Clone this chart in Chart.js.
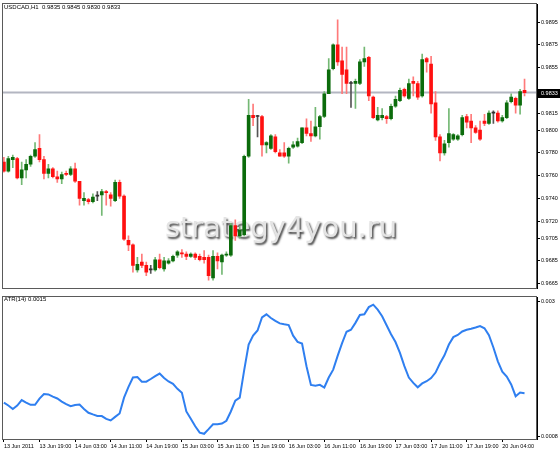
<!DOCTYPE html>
<html lang="en">
<head>
  <meta charset="UTF-8" />
  <title>USDCAD H1</title>
  <script src="https://cdn.jsdelivr.net/npm/chart.js"></script>
  <style>
    body {
      margin: 0;
      background: #ffffff;
    }

    .wrap {
      position: relative;
      width: 560px;
      height: 450px;
    }

    canvas {
      position: absolute;
      left: 0;
    }

    #priceChart { top: 0; }
    #atrChart { top: 293px; }
  </style>
</head>
<body>
  <div class="wrap">
    <canvas id="priceChart" width="560" height="293"></canvas>
    <canvas id="atrChart" width="560" height="157"></canvas>
  </div>

  <script>
    const symbol = 'USDCAD,H1';

    const opens = [
      0.9772, 0.9764, 0.9774, 0.9775, 0.9758, 0.9765, 0.9770, 0.9777, 0.9784, 0.9774,
      0.9762, 0.9766, 0.9759, 0.9757, 0.9762, 0.9761, 0.9766, 0.9755, 0.9738, 0.9739,
      0.9737, 0.9742, 0.9743, 0.9746, 0.9743, 0.9738, 0.9754, 0.9742, 0.9703, 0.9699,
      0.9677, 0.9684, 0.9681, 0.9677, 0.9677, 0.9686, 0.9678, 0.9683, 0.9685, 0.9690,
      0.9692, 0.9691, 0.9689, 0.9691, 0.9689, 0.9688, 0.9688, 0.9670, 0.9689, 0.9684,
      0.9690, 0.9690, 0.9716, 0.9707, 0.9708, 0.9777, 0.9813, 0.9812, 0.9812, 0.9787,
      0.9784, 0.9794, 0.9780, 0.9780, 0.9777, 0.9785, 0.9786, 0.9789, 0.9802, 0.9797,
      0.9795, 0.9803, 0.9812, 0.9832, 0.9854, 0.9875, 0.9861, 0.9853, 0.9841, 0.9841,
      0.9841, 0.9860, 0.9864, 0.9829, 0.9809, 0.9811, 0.9812, 0.9810, 0.9821, 0.9826,
      0.9836, 0.9828, 0.9843, 0.9841, 0.9830, 0.9863, 0.9858, 0.9824, 0.9794, 0.9780,
      0.9789, 0.9792, 0.9792, 0.9796, 0.9812, 0.9808, 0.9802, 0.9800, 0.9808, 0.9806,
      0.9815, 0.9815, 0.9808, 0.9811, 0.9825, 0.9828, 0.9822, 0.9835
    ];

    const highs = [
      0.9776, 0.9777, 0.9778, 0.9776, 0.9772, 0.9774, 0.9778, 0.9789, 0.9796, 0.9777,
      0.9770, 0.9767, 0.9764, 0.9763, 0.9764, 0.9768, 0.9771, 0.9755, 0.9745, 0.9740,
      0.9744, 0.9746, 0.9748, 0.9747, 0.9745, 0.9756, 0.9756, 0.9743, 0.9707, 0.9700,
      0.9688, 0.9691, 0.9684, 0.9681, 0.9688, 0.9691, 0.9688, 0.9687, 0.9690, 0.9694,
      0.9695, 0.9693, 0.9692, 0.9692, 0.9691, 0.9694, 0.9690, 0.9694, 0.9692, 0.9691,
      0.9693, 0.9718, 0.9721, 0.9715, 0.9778, 0.9827, 0.9823, 0.9813, 0.9813, 0.9790,
      0.9796, 0.9796, 0.9783, 0.9789, 0.9785, 0.9790, 0.9793, 0.9802, 0.9810, 0.9808,
      0.9820, 0.9813, 0.9834, 0.9863, 0.9876, 0.9897, 0.9873, 0.9873, 0.9843, 0.9845,
      0.9862, 0.9873, 0.9865, 0.9830, 0.9820, 0.9819, 0.9813, 0.9823, 0.9830, 0.9837,
      0.9837, 0.9845, 0.9847, 0.9843, 0.9867, 0.9864, 0.9865, 0.9834, 0.9796, 0.9791,
      0.9819, 0.9797, 0.9796, 0.9813, 0.9814, 0.9814, 0.9804, 0.9808, 0.9814, 0.9817,
      0.9817, 0.9817, 0.9813, 0.9826, 0.9832, 0.9829, 0.9836, 0.9845
    ];

    const lows = [
      0.9763, 0.9763, 0.9767, 0.9757, 0.9752, 0.9758, 0.9768, 0.9776, 0.9772, 0.9757,
      0.9758, 0.9758, 0.9754, 0.9753, 0.9760, 0.9760, 0.9754, 0.9734, 0.9734, 0.9735,
      0.9736, 0.9738, 0.9725, 0.9734, 0.9733, 0.9737, 0.9740, 0.9703, 0.9694, 0.9675,
      0.9675, 0.9679, 0.9672, 0.9674, 0.9676, 0.9678, 0.9676, 0.9682, 0.9684, 0.9688,
      0.9688, 0.9686, 0.9688, 0.9686, 0.9685, 0.9683, 0.9668, 0.9668, 0.9678, 0.9673,
      0.9689, 0.9689, 0.9703, 0.9705, 0.9707, 0.9776, 0.9804, 0.9794, 0.9777, 0.9780,
      0.9783, 0.9780, 0.9777, 0.9776, 0.9771, 0.9784, 0.9785, 0.9788, 0.9795, 0.9790,
      0.9794, 0.9792, 0.9811, 0.9832, 0.9853, 0.9857, 0.9832, 0.9832, 0.9820, 0.9819,
      0.9840, 0.9856, 0.9826, 0.9810, 0.9808, 0.9809, 0.9806, 0.9809, 0.9820, 0.9825,
      0.9829, 0.9827, 0.9830, 0.9827, 0.9829, 0.9851, 0.9815, 0.9791, 0.9773, 0.9778,
      0.9785, 0.9791, 0.9791, 0.9795, 0.9802, 0.9789, 0.9797, 0.9791, 0.9804, 0.9805,
      0.9806, 0.9807, 0.9807, 0.9810, 0.9824, 0.9815, 0.9814, 0.9830
    ];

    const closes = [
      0.9764, 0.9775, 0.9776, 0.9758, 0.9765, 0.9770, 0.9777, 0.9783, 0.9774, 0.9762,
      0.9766, 0.9759, 0.9757, 0.9761, 0.9761, 0.9766, 0.9755, 0.9740, 0.9740, 0.9737,
      0.9741, 0.9742, 0.9746, 0.9745, 0.9740, 0.9754, 0.9742, 0.9704, 0.9699, 0.9681,
      0.9682, 0.9681, 0.9675, 0.9677, 0.9686, 0.9679, 0.9685, 0.9685, 0.9689, 0.9693,
      0.9691, 0.9689, 0.9691, 0.9688, 0.9686, 0.9686, 0.9672, 0.9689, 0.9685, 0.9690,
      0.9691, 0.9716, 0.9707, 0.9712, 0.9777, 0.9813, 0.9811, 0.9812, 0.9787, 0.9789,
      0.9795, 0.9781, 0.9777, 0.9777, 0.9784, 0.9787, 0.9790, 0.9802, 0.9797, 0.9795,
      0.9803, 0.9812, 0.9832, 0.9853, 0.9875, 0.9860, 0.9849, 0.9841, 0.9841, 0.9843,
      0.9860, 0.9863, 0.9830, 0.9811, 0.9813, 0.9813, 0.9810, 0.9821, 0.9827, 0.9835,
      0.9830, 0.9841, 0.9841, 0.9829, 0.9862, 0.9860, 0.9823, 0.9794, 0.9780, 0.9788,
      0.9797, 0.9796, 0.9795, 0.9811, 0.9807, 0.9802, 0.9798, 0.9792, 0.9806, 0.9815,
      0.9815, 0.9808, 0.9811, 0.9824, 0.9829, 0.9822, 0.9834, 0.9833
    ];

    // ATR(14) per bar
    const atr = [
      0.001346, 0.001298, 0.001241, 0.001298, 0.001386, 0.001346, 0.001309, 0.001309, 0.001410, 0.001486,
      0.001479, 0.001442, 0.001413, 0.001362, 0.001322, 0.001286, 0.001306, 0.001314, 0.001241, 0.001180,
      0.001153, 0.001129, 0.001126, 0.001081, 0.001054, 0.001113, 0.001169, 0.001426, 0.001603, 0.001755,
      0.001763, 0.001688, 0.001688, 0.001731, 0.001779, 0.001820, 0.001747, 0.001691, 0.001651, 0.001571,
      0.001506, 0.001201, 0.001081, 0.000960, 0.000856, 0.000837, 0.000912, 0.000992, 0.000992, 0.001004,
      0.001049, 0.001201, 0.001378, 0.001426, 0.001876, 0.002293, 0.002438, 0.002523, 0.002735, 0.002786,
      0.002727, 0.002679, 0.002639, 0.002623, 0.002610, 0.002438, 0.002337, 0.002309, 0.001940, 0.001635,
      0.001622, 0.001635, 0.001592, 0.001755, 0.001884, 0.002109, 0.002317, 0.002502, 0.002534, 0.002647,
      0.002775, 0.002786, 0.002904, 0.002944, 0.002863, 0.002754, 0.002607, 0.002462, 0.002334, 0.002157,
      0.001940, 0.001755, 0.001667, 0.001595, 0.001659, 0.001694, 0.001747, 0.001836, 0.001988, 0.002117,
      0.002293, 0.002414, 0.002449, 0.002507, 0.002534, 0.002550, 0.002571, 0.002594, 0.002558, 0.002446,
      0.002245, 0.002020, 0.001852, 0.001771, 0.001643, 0.001450, 0.001510, 0.001500
    ];

    const timeTickBars = [0, 8, 16, 24, 32, 40, 48, 56, 64, 72, 80, 88, 96, 104, 112];
    const timeTickLabels = [
      '13 Jun 2011', '13 Jun 19:00', '14 Jun 03:00', '14 Jun 11:00', '14 Jun 19:00',
      '15 Jun 03:00', '15 Jun 11:00', '15 Jun 19:00', '16 Jun 03:00', '16 Jun 11:00',
      '16 Jun 19:00', '17 Jun 03:00', '17 Jun 11:00', '17 Jun 19:00', '20 Jun 04:00'
    ];
    const priceTicks = [0.9665, 0.9685, 0.9705, 0.9720, 0.9740, 0.9760, 0.9780, 0.9800, 0.9815, 0.9855, 0.9875, 0.9895];
    const atrTicks = [0.0008, 0.003];

    const FONT = '"Liberation Sans", Arial, sans-serif';
    const last = closes.length - 1;

    function barColor(i, up, down, flat) {
      if (closes[i] > opens[i]) return up;
      if (closes[i] < opens[i]) return down;
      return flat;
    }

    const idx = closes.map((c, i) => i);
    const bodyColors = idx.map(i => barColor(i, '#0b6b0b', '#ff1010', '#303030'));
    const wickColors = idx.map(i => barColor(i, '#74b874', '#ff7a7a', '#555555'));

    const xScale = {
      type: 'linear',
      min: -0.2,
      max: 119.8,
      offset: false
    };

    function frame(chart) {
      const a = chart.chartArea;
      const ctx = chart.ctx;
      ctx.save();
      ctx.strokeStyle = '#5a5a5a';
      ctx.lineWidth = 1;
      ctx.strokeRect(Math.round(a.left) - 0.5, Math.round(a.top) - 0.5, Math.round(a.right - a.left), Math.round(a.bottom - a.top) + 1);
      ctx.restore();
    }

    const pricePlugin = {
      id: 'pricePlugin',
      beforeDatasetsDraw(chart) {
        const ctx = chart.ctx;
        const a = chart.chartArea;
        const y = chart.scales.y.getPixelForValue(closes[last]);
        ctx.save();
        // watermark
        ctx.font = '29px "DejaVu Sans", sans-serif';
        ctx.textAlign = 'center';
        ctx.textBaseline = 'alphabetic';
        ctx.shadowColor = 'rgba(40,40,40,0.85)';
        ctx.shadowBlur = 2;
        ctx.shadowOffsetX = 1.5;
        ctx.shadowOffsetY = 1.5;
        ctx.fillStyle = '#e4e4e4';
        ctx.fillText('strategy4you.ru', 281, 237);
        ctx.restore();

        // bid line
        ctx.save();
        ctx.strokeStyle = '#b3b6c1';
        ctx.lineWidth = 2;
        ctx.beginPath();
        ctx.moveTo(a.left, y);
        ctx.lineTo(a.right, y);
        ctx.stroke();
        ctx.restore();
      },
      afterDraw(chart) {
        const ctx = chart.ctx;
        const a = chart.chartArea;
        const y = chart.scales.y.getPixelForValue(closes[last]);
        frame(chart);
        ctx.save();
        ctx.fillStyle = '#000';
        ctx.fillRect(a.right + 1, Math.round(y) - 4, 22, 9);
        ctx.fillStyle = '#fff';
        ctx.font = '5.5px ' + FONT;
        ctx.textBaseline = 'middle';
        ctx.fillText(closes[last].toFixed(4), a.right + 4, Math.round(y) + 0.5);

        ctx.fillStyle = '#000';
        ctx.font = '6px ' + FONT;
        ctx.fillText(symbol + '  ' + [opens[last], highs[last], lows[last], closes[last]].map(v => v.toFixed(4)).join(' '), 4, 7);
        ctx.restore();
      }
    };

    const atrPlugin = {
      id: 'atrPlugin',
      afterDraw(chart) {
        const ctx = chart.ctx;
        frame(chart);
        ctx.save();
        ctx.fillStyle = '#000';
        ctx.font = '6px ' + FONT;
        ctx.textBaseline = 'middle';
        ctx.fillText('ATR(14) ' + atr[last].toFixed(4), 4, 6);
        ctx.restore();
      }
    };

    new Chart(document.getElementById('priceChart'), {
      type: 'bar',
      data: {
        datasets: [
          {
            data: idx.map(i => ({ x: i, y: [opens[i], closes[i]] })),
            backgroundColor: bodyColors,
            barThickness: 3,
            minBarLength: 1,
            grouped: false,
            borderWidth: 0
          },
          {
            data: idx.map(i => ({ x: i, y: [lows[i], highs[i]] })),
            backgroundColor: wickColors,
            barThickness: 1,
            grouped: false,
            borderWidth: 0
          }
        ]
      },
      options: {
        responsive: false,
        animation: false,
        events: [],
        layout: { padding: { left: 3, top: 1, right: 0, bottom: 1 } },
        plugins: { legend: { display: false }, tooltip: { enabled: false } },
        scales: {
          x: Object.assign({}, xScale, { display: false }),
          y: {
            position: 'right',
            min: 0.96605,
            max: 0.99107,
            afterFit(s) { s.width = 23; },
            afterBuildTicks(s) { s.ticks = priceTicks.map(v => ({ value: v })); },
            grid: { drawOnChartArea: false, tickLength: 3, color: '#000' },
            border: { color: '#000' },
            ticks: {
              padding: 1,
              color: '#000',
              font: { family: FONT, size: 5.5 },
              callback: v => v.toFixed(4)
            }
          }
        }
      },
      plugins: [pricePlugin]
    });

    new Chart(document.getElementById('atrChart'), {
      type: 'line',
      data: {
        datasets: [{
          data: atr.map((v, i) => ({ x: i, y: v })),
          borderColor: '#2f7ff0',
          borderWidth: 2,
          pointRadius: 0,
          tension: 0,
          fill: false
        }]
      },
      options: {
        responsive: false,
        animation: false,
        events: [],
        layout: { padding: { left: 3, top: 2, right: 0, bottom: 0 } },
        plugins: { legend: { display: false }, tooltip: { enabled: false } },
        scales: {
          x: Object.assign({}, xScale, {
            afterFit(s) { s.height = 11; },
            afterBuildTicks(s) { s.ticks = timeTickBars.map(v => ({ value: v })); },
            grid: { drawOnChartArea: false, tickLength: 3, color: '#000' },
            border: { display: false },
            ticks: {
              padding: 1,
              align: 'start',
              autoSkip: false,
              maxRotation: 0,
              color: '#000',
              font: { family: FONT, size: 5.5 },
              callback: (v, i) => timeTickLabels[i]
            }
          }),
          y: {
            position: 'right',
            min: 0.0007518,
            max: 0.0030642,
            afterFit(s) { s.width = 23; },
            afterBuildTicks(s) { s.ticks = atrTicks.map(v => ({ value: v })); },
            grid: { drawOnChartArea: false, tickLength: 3, color: '#000' },
            border: { color: '#000' },
            ticks: {
              padding: 1,
              color: '#000',
              font: { family: FONT, size: 5.5 },
              callback: v => String(v)
            }
          }
        }
      },
      plugins: [atrPlugin]
    });
  </script>
</body>
</html>
